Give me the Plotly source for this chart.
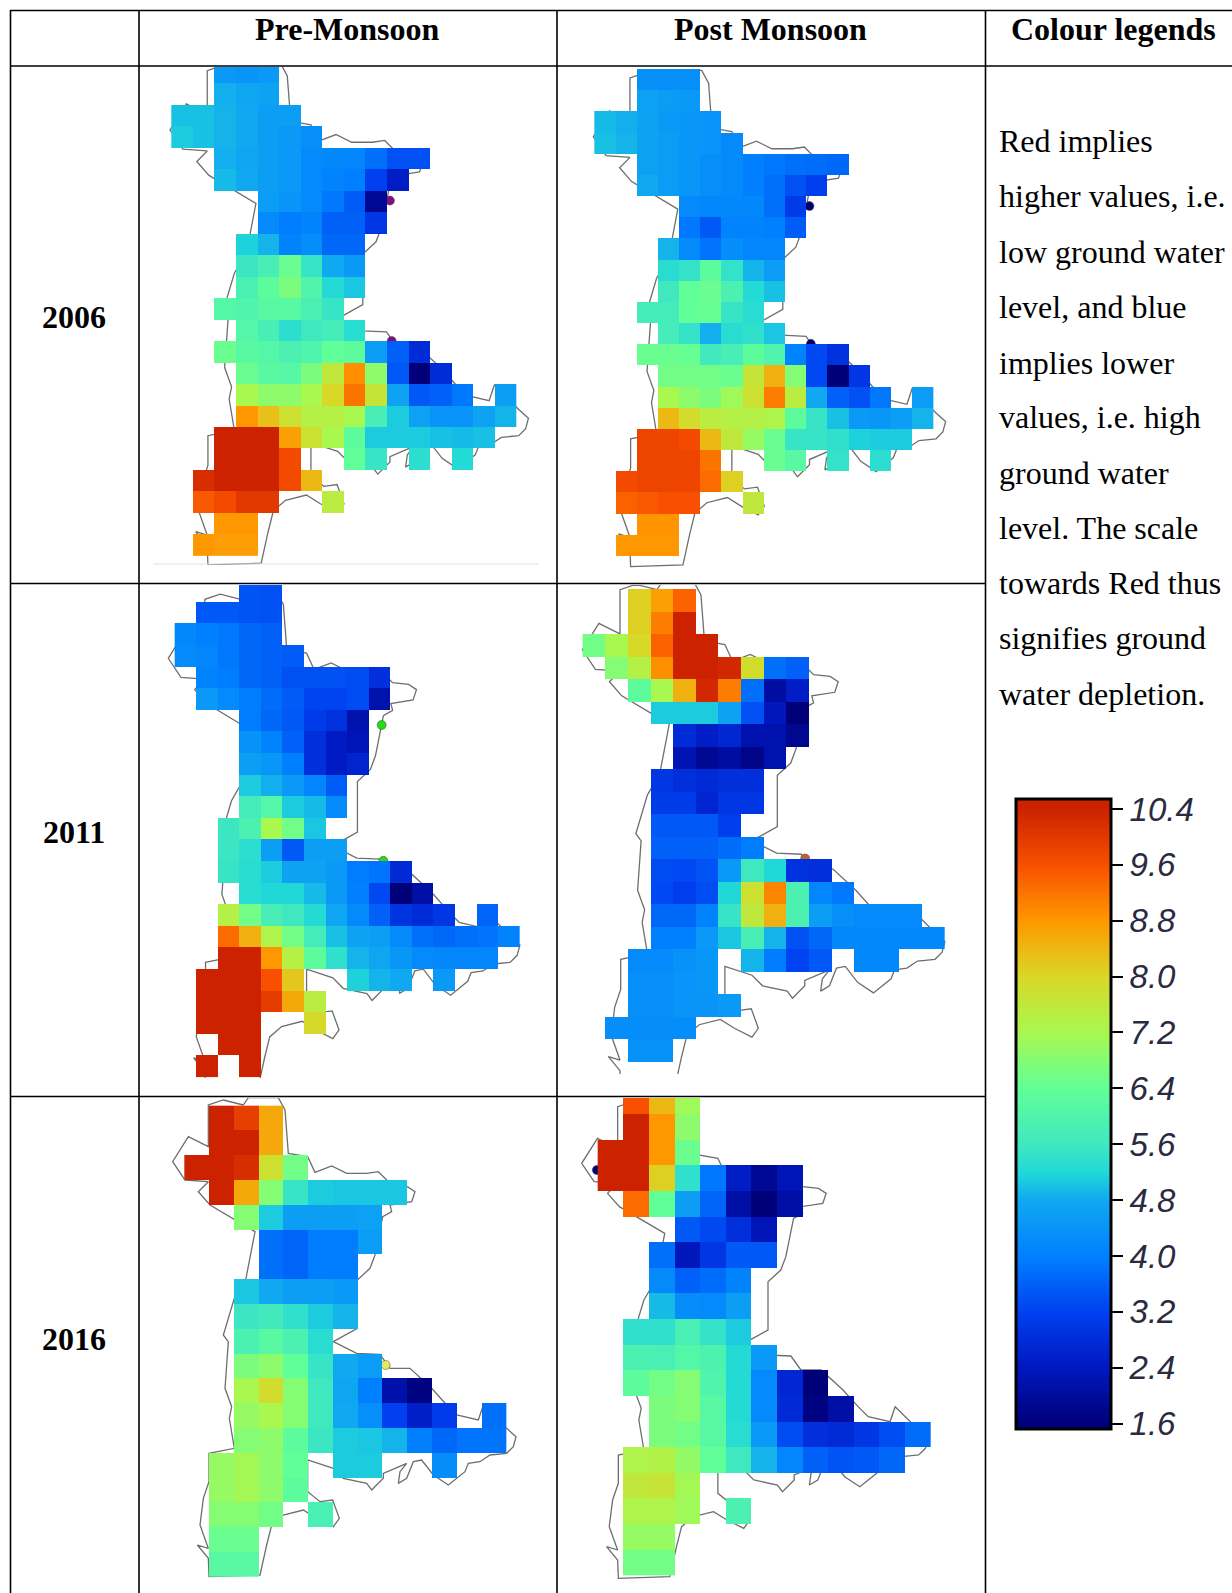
import plotly.graph_objects as go

W, H = 1232, 1593
_ = None

# ---------- data: gridded values (rows top to bottom, columns left to right)
pre_2006 = [
 [_,_,4.5,4.4,4.5],
 [_,_,4.85,4.75,4.7],
 [5.0,5.0,4.9,4.8,4.6,4.6],
 [5.1,5.0,4.9,4.8,4.6,4.5,4.3],
 [_,_,4.85,4.75,4.6,4.5,4.2,4.15,4.1,3.8,3.4,3.4],
 [_,_,4.95,4.8,4.6,4.5,4.2,4.05,4.0,3.2,2.5],
 [_,_,_,_,4.55,4.4,4.2,3.9,3.55,1.9],
 [_,_,_,_,4.2,3.95,4.05,3.6,3.6,3.0],
 [_,_,_,5.15,4.9,4.05,4.25,3.7,3.7],
 [_,_,_,5.55,5.8,6.5,5.5,4.8,4.5],
 [_,_,_,5.85,6.3,6.7,6.0,5.25,5.05],
 [_,_,6.1,6.0,6.2,6.2,5.85,5.5],
 [_,_,_,6.1,5.8,5.35,5.6,5.75,5.3],
 [_,_,6.5,6.2,6.1,5.9,6.0,6.4,6.3,4.6,3.6,2.8],
 [_,_,_,6.5,6.2,6.15,6.7,7.6,8.9,6.9,3.5,1.6,2.8],
 [_,_,_,7.2,6.9,6.9,7.2,8.0,9.2,7.7,4.7,3.5,3.6,3.9,_,4.6],
 [_,_,_,8.8,8.3,7.8,7.4,7.4,7.2,5.8,5.1,4.65,4.4,4.4,4.7,4.9],
 [_,_,10.4,10.4,10.4,8.7,7.8,7.2,6.3,5.1,5.1,5.1,5.0,4.95,5.0],
 [_,_,10.4,10.4,10.4,9.7,_,_,6.4,5.5,_,5.35,_,5.25],
 [_,10.2,10.4,10.4,10.4,9.7,8.4],
 [_,9.5,9.7,10.0,10.0,_,_,7.5],
 [_,_,8.8,8.8],
 [_,8.8,8.75,8.75],
]
post_2006 = [
 [_,_,4.3,4.3,4.3],
 [_,_,4.65,4.55,4.5],
 [4.95,4.85,4.7,4.5,4.45,4.4],
 [5.0,4.9,4.7,4.55,4.45,4.4,4.2],
 [_,_,4.65,4.55,4.45,4.3,4.2,4.0,3.9,3.8,3.75,3.7],
 [_,_,4.8,4.55,4.45,4.3,4.2,4.0,3.8,3.4,3.15],
 [_,_,_,_,4.2,4.15,4.15,4.15,3.8,3.1],
 [_,_,_,_,3.9,3.5,4.05,4.05,4.0,3.55],
 [_,_,_,4.9,4.2,3.85,4.25,4.1,4.1],
 [_,_,_,5.3,5.45,6.3,5.45,4.9,4.55],
 [_,_,_,5.6,6.4,6.5,5.9,5.25,5.0],
 [_,_,5.7,5.7,6.4,6.45,5.5,5.3],
 [_,_,_,5.75,5.45,4.85,5.3,5.4,5.05],
 [_,_,6.5,6.5,6.45,5.65,5.8,6.3,6.0,4.05,3.3,2.9],
 [_,_,_,6.6,6.6,6.6,6.5,7.7,8.5,6.8,3.3,1.6,3.0],
 [_,_,_,7.2,6.9,6.7,7.1,7.8,9.1,7.5,4.8,3.6,3.4,3.9,_,4.55],
 [_,_,_,8.4,7.9,7.5,7.4,7.4,7.3,6.3,5.5,5.0,4.5,4.45,4.6,4.9],
 [_,_,9.8,9.8,9.7,8.4,7.6,7.0,6.5,5.5,5.5,5.4,5.15,5.1,5.1],
 [_,_,9.8,9.8,9.8,9.2,_,_,6.5,6.2,_,5.45,_,5.35],
 [_,9.7,9.8,9.8,9.8,9.3,8.1],
 [_,9.4,9.5,9.6,9.6,_,_,7.6],
 [_,_,8.85,8.85],
 [_,8.8,8.8,8.8],
]
pre_2011 = [
 [_,_,_,3.45,3.4],
 [_,3.5,3.5,3.45,3.4],
 [4.15,4.0,3.9,3.7,3.6],
 [4.2,4.1,3.9,3.7,3.6,3.55],
 [_,4.05,3.95,3.7,3.6,3.4,3.4,3.4,3.35,2.85],
 [_,4.5,4.2,3.95,3.75,3.55,3.25,3.25,3.35,2.2],
 [_,_,_,3.95,3.7,3.5,3.1,2.9,2.2],
 [_,_,_,4.35,4.05,3.6,2.85,2.45,2.3],
 [_,_,_,4.6,4.45,4.0,2.85,2.45,2.65],
 [_,_,_,5.1,4.85,4.5,4.1,3.55],
 [_,_,_,5.7,6.1,5.1,4.95,4.2],
 [_,_,5.55,5.9,7.2,6.6,5.05],
 [_,_,5.55,5.35,4.6,3.5,4.6,4.6],
 [_,_,5.5,5.3,5.1,4.7,4.7,4.5,3.95,3.85,2.75],
 [_,_,_,5.3,5.2,5.2,4.95,4.5,4.0,3.3,1.6,2.1],
 [_,_,7.4,6.6,5.8,5.6,5.25,4.75,4.2,3.6,2.95,2.8,3.0,_,3.65],
 [_,_,9.3,8.5,7.3,6.6,5.7,5.0,4.7,4.6,4.2,3.8,3.7,3.8,3.85,4.05],
 [_,_,10.4,10.4,8.8,7.4,6.3,5.4,4.9,4.75,4.45,4.2,4.15,4.1,4.1],
 [_,10.4,10.4,10.4,9.6,8.2,_,_,5.15,4.9,4.8,_,4.5],
 [_,10.4,10.4,10.4,9.95,8.6,7.5],
 [_,10.4,10.4,10.4,_,_,7.95],
 [_,_,10.4,10.4],
 [_,10.4,_,10.4],
]
post_2011 = [
 [_,_,8.1,8.7,9.4],
 [_,_,8.1,9.1,10.4],
 [6.6,7.2,8.0,9.4,10.4,10.4],
 [_,6.8,7.4,8.9,10.4,10.4,10.3,7.9,3.8,3.6],
 [_,_,6.3,7.2,8.5,10.3,9.1,3.8,2.05,2.5],
 [_,_,_,5.1,5.1,5.1,4.7,3.4,2.35,1.6],
 [_,_,_,_,2.8,2.5,2.7,2.2,2.2,1.85],
 [_,_,_,_,2.25,1.9,2.05,1.75,2.2],
 [_,_,_,3.0,2.85,2.75,2.85,2.85],
 [_,_,_,3.1,3.1,2.65,3.0,3.0],
 [_,_,_,3.5,3.5,3.5,3.15],
 [_,_,_,3.6,3.6,3.6,3.75,3.95],
 [_,_,_,3.35,3.3,3.45,4.5,5.6,5.2,2.9,2.85],
 [_,_,_,3.3,3.15,3.35,5.2,7.8,9.0,5.9,4.1,3.9],
 [_,_,_,3.7,3.7,4.05,5.5,7.6,8.5,5.9,4.6,4.3,4.2,4.2,4.2],
 [_,_,_,4.0,4.0,4.5,5.05,5.8,4.9,3.4,3.7,4.15,4.15,4.15,4.15,4.15],
 [_,_,4.2,4.2,4.35,4.45,_,4.9,3.95,3.25,3.5,_,4.15,4.15],
 [_,_,4.3,4.3,4.4,4.45],
 [_,_,4.3,4.3,4.4,4.4,4.5],
 [_,4.25,4.25,4.25,4.25],
 [_,_,4.35,4.35],
]
pre_2016 = [
 [_,10.4,9.9,8.6],
 [_,10.4,10.4,8.6],
 [10.4,10.4,10.2,7.8,6.6],
 [_,10.4,8.6,6.8,5.5,5.1,5.05,5.05,5.05],
 [_,_,6.8,5.1,4.6,4.6,4.6,4.65],
 [_,_,_,3.8,3.65,3.95,3.95,4.55],
 [_,_,_,3.8,3.65,3.95,3.95],
 [_,_,5.05,4.8,4.6,4.6,4.5],
 [_,_,5.55,5.65,5.4,5.1,4.9],
 [_,_,5.9,6.2,5.9,5.3],
 [_,_,6.7,6.9,6.4,5.5,4.8,4.55],
 [_,_,7.2,7.9,6.8,5.6,4.75,4.0,2.15,1.7],
 [_,_,7.0,7.2,6.8,5.6,4.8,4.3,3.2,2.55,3.1,_,3.8],
 [_,_,6.8,6.9,6.3,5.55,5.1,5.05,4.9,4.0,3.7,3.85,3.85],
 [_,7.0,7.15,6.9,6.4,_,5.1,5.1,_,_,4.25],
 [_,7.0,7.15,6.9,6.3],
 [_,6.8,6.8,6.6,_,5.85],
 [_,6.5,6.5],
 [_,6.2,6.2],
]
post_2016 = [
 [_,9.6,8.4,7.1],
 [_,10.4,8.8,6.9],
 [10.4,10.4,8.8,6.5],
 [10.4,10.4,8.1,5.4,3.9,2.5,1.9,2.3],
 [_,9.3,6.4,4.6,3.65,2.1,1.6,2.1],
 [_,_,_,3.5,3.3,2.85,2.3],
 [_,_,3.8,2.35,3.0,3.5,3.5],
 [_,_,4.2,3.6,3.75,4.05],
 [_,_,4.95,4.25,4.2,4.6],
 [_,5.4,5.4,5.85,5.45,5.1],
 [_,5.9,5.85,6.1,5.95,5.25,4.5],
 [_,6.3,6.6,6.8,6.0,5.25,4.2,2.7,1.6],
 [_,_,6.7,6.8,6.2,5.25,4.2,2.75,1.7,2.1],
 [_,_,6.7,6.6,6.2,5.3,4.5,3.35,2.85,2.75,3.0,3.35,3.75],
 [_,7.3,7.35,6.95,6.4,5.6,4.9,4.1,3.6,3.45,3.5,3.7],
 [_,7.6,7.7,7.15],
 [_,7.3,7.3,7.1,_,5.9],
 [_,7.0,7.0],
 [_,6.6,6.6],
]

# district outline, in one common map unit shared by all panels
outline_x = [310,325,415,435,445,503,525,575,620,680,715,755,802,825,815,750,755,728,705,690,652,652,
             580,650,720,750,810,875,920,950,1015,1030,1100,1128,1120,1100,1050,1020,985,975,925,880,
             845,820,800,775,780,800,730,730,695,680,610,580,503,503,540,578,598,580,530,490,430,395,
             380,360,207,205,172,205,180,190,207,207,283,268,275,255,265,250,283,318,345,285,210,175,
             205,135,98,145,205,205,250,310]
outline_y = [60,38,38,75,205,215,262,243,265,265,260,300,305,320,350,360,380,395,510,550,585,730,
             770,805,808,850,850,910,960,990,1005,960,1030,1055,1085,1105,1110,1130,1135,1160,1200,1170,
             1125,1130,1180,1195,1160,1135,1165,1180,1215,1195,1180,1150,1125,1220,1250,1245,1300,1325,1300,1275,1290,1320,
             1380,1470,1475,1420,1380,1390,1320,1240,1190,1105,1090,1000,965,910,770,750,640,580,440,405,360,320,
             290,285,230,155,185,60,45,60]

# gauge dots, map units
dot_x = [[730, 735], [730, 734], [723, 728], [731], [737], [143]]
dot_y = [[432, 834], [431, 830], [422, 813], [820], [840], [250]]
dot_col = ["#7f0f7f", "#000070", "#22dd11", "#c06030", "#e8e860", "#000080"]

scale_vals = [1.6, 2.4, 3.2, 4.0, 4.8, 5.2, 5.6, 6.4, 7.2, 8.0, 8.8, 9.6, 10.4]
scale_cols = ["#000078", "#0018c0", "#0040f0", "#0080ff", "#10a8f0", "#20d8d8", "#40e8c0", "#60ff98",
              "#a8f850", "#d8d828", "#ff9800", "#f85000", "#cc2200"]
colorbar_ticks = [1.6, 2.4, 3.2, 4.0, 4.8, 5.6, 6.4, 7.2, 8.0, 8.8, 9.6, 10.4]

years = ["2006", "2011", "2016"]
headers = ["Pre-Monsoon", "Post Monsoon", "Colour legends"]
legend_lines = ["Red implies", "higher values, i.e.", "low ground water", "level, and blue", "implies lower",
                "values, i.e. high", "ground water", "level. The scale", "towards Red thus",
                "signifies ground", "water depletion."]

# ---------- layout of the panels (page pixels)
ZMIN, ZMAX = 1.53, 10.55
panels = [
 dict(z=pre_2006,  box=(141,67,556,565),   cell=(171.33,61.85,21.54,21.48), off=(140,60),   tip=(90,210),  s=(1.044,1.048), y_ref=(230,210)),
 dict(z=post_2006, box=(558,67,984,582),   cell=(594.33,69.0,21.19,21.16),  off=(555,60),   tip=(115,230), s=(1.026,1.036), y_ref=(230,230)),
 dict(z=pre_2011,  box=(141,585,556,1078), cell=(174.67,580.08,21.58,21.59),off=(140,575),  tip=(85,250),  s=(1.024,1.042), y_ref=(230,250)),
 dict(z=post_2011, box=(558,585,984,1074), cell=(582.67,589.0,22.65,22.54), off=(555,575),  tip=(82,224),  s=(1.056,1.061), y_ref=(320,320)),
 dict(z=pre_2016,  box=(141,1098,556,1593),cell=(184.33,1105.67,24.8,24.8), off=(140,1085), tip=(98,230),  s=(1.0,1.0),     y_ref=(230,230)),
 dict(z=post_2016, box=(558,1098,984,1593),cell=(597.67,1088.35,25.64,25.65),off=(555,1085),tip=(80,235),  s=(1.009,1.0),   y_ref=(230,235)),
]

colorscale = [[(v - ZMIN) / (ZMAX - ZMIN), c] for v, c in zip(scale_vals, scale_cols)]
colorscale = [[0, scale_cols[0]]] + colorscale + [[1, scale_cols[-1]]]

fig = go.Figure()
layout = {}
for i, p in enumerate(panels):
    L, T, R, B = p["box"]
    x0, y0, dx, dy = p["cell"]
    ox, oy = p["off"]
    sx, sy = p["s"]
    tipx, _tipy = p["tip"]
    yr_m, yr_z = p["y_ref"]
    a, b = 2 * i + 1, 2 * i + 2
    dom_x = [L / W, R / W]
    dom_y = [1 - B / H, 1 - T / H]
    # base axes: map units (drawn under the cells)
    mx = lambda px: 98 + (3 * (px - ox) - tipx) / sx
    my = lambda py: yr_m + (3 * (py - oy) - yr_z) / sy
    layout[f"xaxis{a}"] = dict(domain=dom_x, range=[mx(L), mx(R)], visible=False, anchor=f"y{a}", fixedrange=True)
    layout[f"yaxis{a}"] = dict(domain=dom_y, range=[my(B), my(T)], visible=False, anchor=f"x{a}", fixedrange=True)
    # overlay axes: grid cell units
    layout[f"xaxis{b}"] = dict(range=[(L - x0) / dx - .5, (R - x0) / dx - .5], visible=False,
                               overlaying=f"x{a}", anchor=f"y{b}", fixedrange=True)
    layout[f"yaxis{b}"] = dict(range=[(B - y0) / dy - .5, (T - y0) / dy - .5], visible=False,
                               overlaying=f"y{a}", anchor=f"x{b}", fixedrange=True)
    fig.add_trace(go.Scatter(x=outline_x, y=outline_y, mode="lines", xaxis=f"x{a}", yaxis=f"y{a}",
                             line=dict(color="#6e6e6e", width=1.3), hoverinfo="skip", showlegend=False))
    fig.add_trace(go.Scatter(x=dot_x[i], y=dot_y[i], mode="markers", xaxis=f"x{a}", yaxis=f"y{a}",
                             marker=dict(size=9, color=dot_col[i], line=dict(color="#444", width=0.5)),
                             hoverinfo="skip", showlegend=False))
    n = max(len(r) for r in p["z"])
    z = [r + [None] * (n - len(r)) for r in p["z"]]
    hm = dict(z=z, xaxis=f"x{b}", yaxis=f"y{b}", zmin=ZMIN, zmax=ZMAX, colorscale=colorscale,
              hoverongaps=False, showscale=False)
    if i == 5:
        hm.update(showscale=True, colorbar=dict(
            x=1015.5 / W, xanchor="left", xpad=0, y=1 - 798.5 / H, yanchor="top", ypad=0,
            lenmode="pixels", len=630, thicknessmode="pixels", thickness=95,
            outlinewidth=3, outlinecolor="black", tickvals=colorbar_ticks,
            ticktext=[f"{v:.1f}" for v in colorbar_ticks],
            ticks="outside", ticklen=11, tickwidth=2, tickcolor="black",
            tickfont=dict(family="Liberation Sans", size=33, color="#2a2a40", style="italic")))
    fig.add_trace(go.Heatmap(**hm))

# ---------- table rules and text
shapes = []
def rule(x1, y1, x2, y2, color="black", width=1.6):
    shapes.append(dict(type="line", xref="paper", yref="paper", x0=x1 / W, x1=x2 / W,
                       y0=1 - y1 / H, y1=1 - y2 / H, line=dict(color=color, width=width), layer="above"))
for x in (10.5, 139, 557, 985.5):
    rule(x, 10, x, H)
for y in (10.5, 66):
    rule(10, y, W, y)
for y in (583.5, 1096.5):
    rule(10, y, 985.5, y)
rule(153, 564, 539, 564, color="#e2e2e2", width=1)

ann = []
def label(x, y, text, anchor="center", bold=False):
    t = f"<b>{text}</b>" if bold else text
    ann.append(dict(x=x / W, y=1 - y / H, xref="paper", yref="paper", text=t, showarrow=False, xanchor=anchor,
                    yanchor="middle", font=dict(family="Liberation Serif", size=32, color="black")))
for x, t in zip((347, 770, 1113), headers):
    label(x, 29.5, t, bold=True)
for y, t in zip((317, 832, 1339), years):
    label(74, y, t, bold=True)
for y, t in zip((141, 196, 252, 307, 363, 417, 473, 528, 583, 638, 694), legend_lines):
    label(996.5, y, t, anchor="left")

fig.update_layout(width=W, height=H, margin=dict(l=0, r=0, t=0, b=0), paper_bgcolor="white",
                  plot_bgcolor="rgba(0,0,0,0)", shapes=shapes, annotations=ann, showlegend=False, **layout)
fig.write_html("out.html", config={"displayModeBar": False},
               post_script="document.body.style.margin='0';document.documentElement.style.overflow='hidden';")
